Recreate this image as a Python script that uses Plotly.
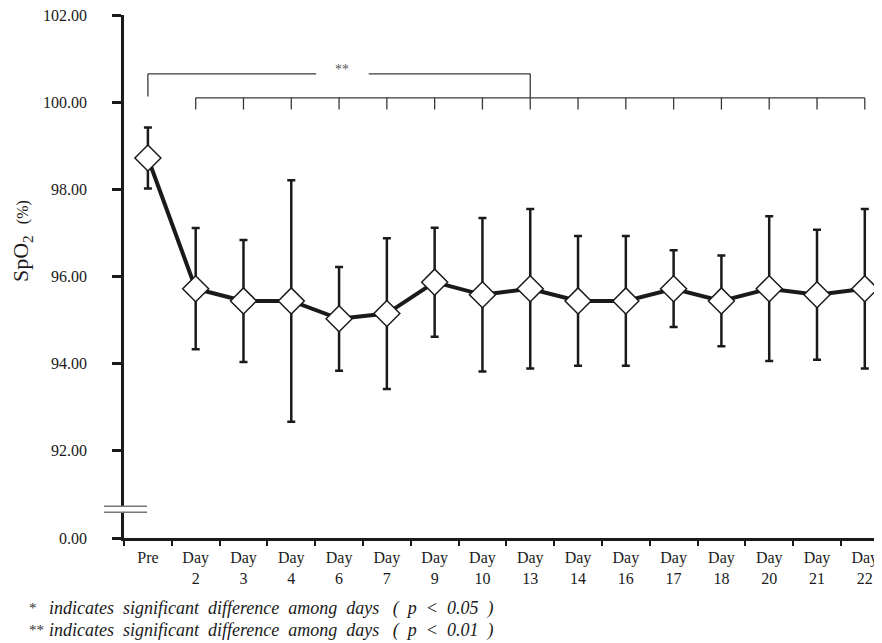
import plotly.graph_objects as go

# ---- data ----
days = ["Pre", "Day 2", "Day 3", "Day 4", "Day 6", "Day 7", "Day 9", "Day 10",
        "Day 13", "Day 14", "Day 16", "Day 17", "Day 18", "Day 20", "Day 21", "Day 22"]
tick_text = ["Pre"] + [d.replace(" ", "<br>") for d in days[1:]]
spo2_mean = [98.72, 95.72, 95.44, 95.44, 95.03, 95.15, 95.87, 95.58,
             95.72, 95.44, 95.44, 95.72, 95.44, 95.72, 95.58, 95.72]
spo2_sd = [0.70, 1.39, 1.40, 2.77, 1.19, 1.73, 1.25, 1.76,
           1.83, 1.49, 1.49, 0.88, 1.04, 1.66, 1.49, 1.83]
y_tickvals = [90, 92, 94, 96, 98, 100, 102]
y_ticktext = ["0.00", "92.00", "94.00", "96.00", "98.00", "100.00", "102.00"]
footnotes = [("*", "indicates significant difference among days", "0.05"),
             ("**", "indicates significant difference among days", "0.01")]

OFF = 8  # page body margin
W, H = 882 - OFF, 643 - OFF
ML, MR, MT, MB = 116, 0, 7, 105
PW, PH = W - ML - MR, H - MT - MB
FONT = "Liberation Serif"
INK = "#1a1a1a"

def px_x(p):  # page pixel -> paper x
    return (p - OFF - ML) / PW

def px_y(p):  # page pixel -> paper y
    return (H - MB - (p - OFF)) / PH

fig = go.Figure()
fig.add_trace(go.Scatter(
    x=days, y=spo2_mean, mode="lines+markers",
    line=dict(color=INK, width=4),
    marker=dict(symbol="diamond", size=20, color="white", line=dict(color=INK, width=1.5)),
    error_y=dict(type="data", array=spo2_sd, visible=True, color=INK, thickness=2.5, width=4),
    showlegend=False, cliponaxis=False,
))

shapes = []
bcol = "#3a3a3a"
top_y, low_y, drop_y, pre_bot = 100.65, 100.10, 99.83, 100.13
i13 = days.index("Day 13")
# top bracket (Pre .. Day 13), with gap for the label
shapes.append(dict(type="line", xref="x", yref="y", x0=0, x1=0, y0=pre_bot, y1=top_y, line=dict(color=bcol, width=1.3)))
shapes.append(dict(type="line", xref="x", yref="y", x0=0, x1=3.52, y0=top_y, y1=top_y, line=dict(color=bcol, width=1.3)))
shapes.append(dict(type="line", xref="x", yref="y", x0=4.62, x1=i13, y0=top_y, y1=top_y, line=dict(color=bcol, width=1.3)))
shapes.append(dict(type="line", xref="x", yref="y", x0=i13, x1=i13, y0=top_y, y1=low_y, line=dict(color=bcol, width=1.3)))
# lower bracket (Day 2 .. Day 22)
shapes.append(dict(type="line", xref="x", yref="y", x0=1, x1=len(days) - 1, y0=low_y, y1=low_y, line=dict(color=bcol, width=1.3)))
for i in range(1, len(days)):
    shapes.append(dict(type="line", xref="x", yref="y", x0=i, x1=i, y0=low_y, y1=drop_y, line=dict(color=bcol, width=1.3)))
# axis break
shapes.append(dict(type="rect", xref="paper", yref="y", x0=px_x(119), x1=px_x(130), y0=90.59, y1=90.73,
                   fillcolor="white", line=dict(width=0), layer="above"))
for yb in (90.59, 90.73):
    shapes.append(dict(type="line", xref="paper", yref="y", x0=px_x(104), x1=px_x(147), y0=yb, y1=yb,
                       line=dict(color="#777777", width=1.6), layer="above"))

annotations = [
    dict(text="**", xref="x", yref="y", x=4.07, y=top_y, yshift=4, showarrow=False,
         font=dict(family=FONT, size=14, color="#555555")),
    dict(text="SpO<sub>2</sub>  <span style='font-size:16px'>(%)</span>", xref="paper", yref="paper",
         x=px_x(22), y=px_y(241), textangle=-90, showarrow=False, xanchor="center", yanchor="middle",
         font=dict(family=FONT, size=22, color=INK)),
]
for k, (mark, txt, pval) in enumerate(footnotes):
    yy = px_y(608 + 22 * k)
    annotations.append(dict(text=mark, xref="paper", yref="paper", x=px_x(27), y=yy, xanchor="left",
                            yanchor="middle", showarrow=False, font=dict(family=FONT, size=15, color="#333")))
    body = txt.replace(" ", "&nbsp; ")
    paren = ("&nbsp;&nbsp;&nbsp;(&nbsp;&nbsp;<i>p</i>&nbsp;&nbsp;&lt;&nbsp;&nbsp;" + pval
             + "&nbsp;&nbsp;)")
    annotations.append(dict(text="<i>" + body + paren + "</i>", xref="paper", yref="paper",
                            x=px_x(47), y=yy, xanchor="left", yanchor="middle", showarrow=False,
                            font=dict(family=FONT, size=18, color=INK)))

fig.update_layout(
    width=W, height=H, margin=dict(l=ML, r=MR, t=MT, b=MB),
    paper_bgcolor="white", plot_bgcolor="white",
    shapes=shapes, annotations=annotations,
    xaxis=dict(type="category", range=[-0.5, 15.36], tickson="boundaries",
               tickvals=days, ticktext=tick_text, ticks="outside", ticklen=5, tickwidth=2,
               tickcolor=INK, showline=True, linecolor=INK, linewidth=2.5, showgrid=False,
               zeroline=False, ticklabelstandoff=3,
               tickfont=dict(family=FONT, size=16, color=INK)),
    yaxis=dict(range=[90, 102], tickvals=y_tickvals, ticktext=y_ticktext, ticks="outside",
               ticklen=9, tickwidth=2.5, tickcolor=INK, showline=True, linecolor=INK,
               linewidth=2.5, showgrid=False, zeroline=False, ticklabelstandoff=22,
               ticklabeloverflow="allow",
               tickfont=dict(family=FONT, size=16, color=INK)),
)
fig.write_html("out.html")
